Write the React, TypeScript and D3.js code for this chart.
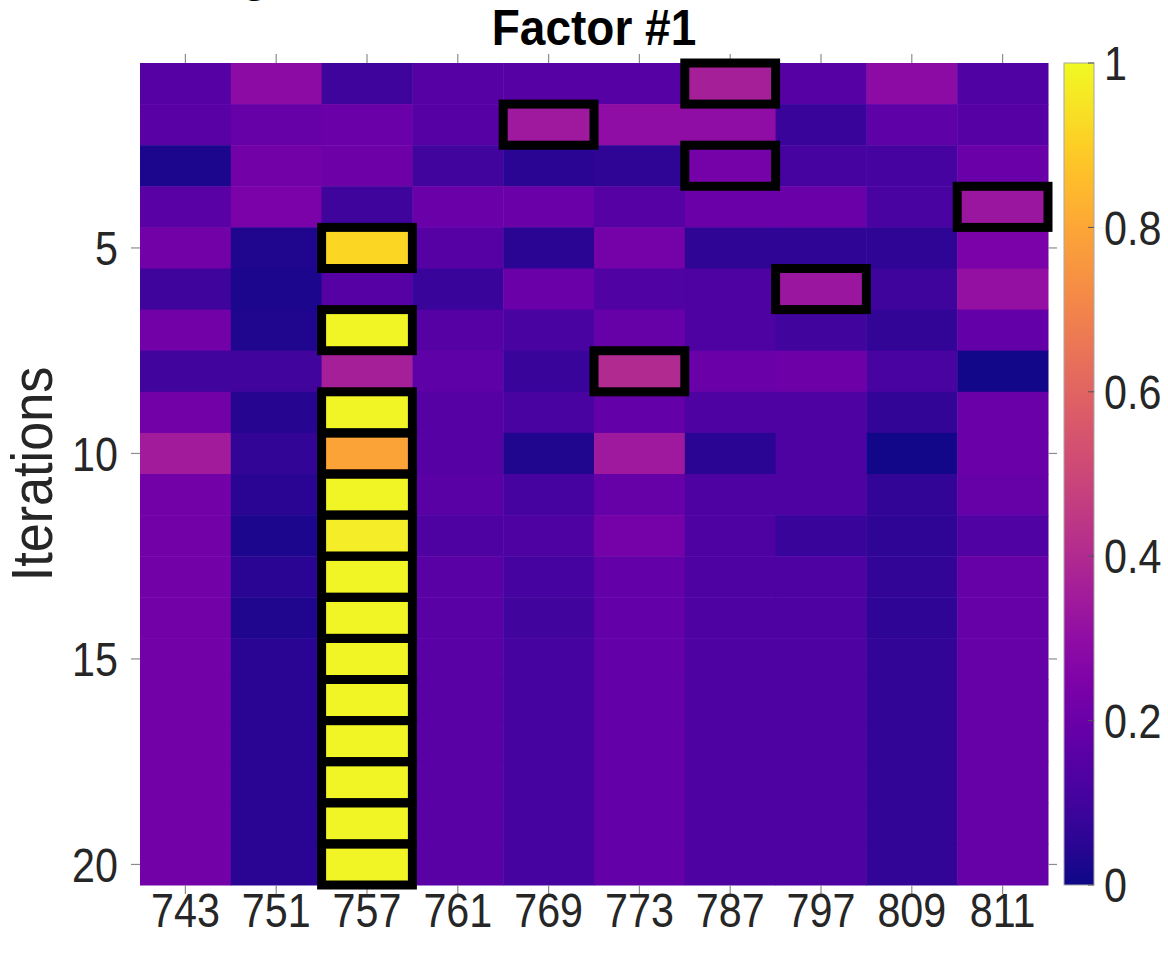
import React, { useEffect, useRef } from "react";
import * as d3 from "d3";

const columns = ["743", "751", "757", "761", "769", "773", "787", "797", "809", "811"];
const iterations = d3.range(1, 21);
const yTicks = [5, 10, 15, 20];
const cbTicks = [0, 0.2, 0.4, 0.6, 0.8, 1];

// one array per iteration, in column order
const values: number[][] = [
  [0.15, 0.29, 0.09, 0.15, 0.15, 0.15, 0.36, 0.15, 0.29, 0.14],
  [0.16, 0.19, 0.2, 0.15, 0.34, 0.3, 0.3, 0.08, 0.17, 0.15],
  [0.02, 0.22, 0.21, 0.1, 0.05, 0.06, 0.23, 0.11, 0.11, 0.2],
  [0.16, 0.24, 0.09, 0.2, 0.2, 0.15, 0.2, 0.2, 0.12, 0.33],
  [0.22, 0.03, 0.92, 0.15, 0.05, 0.23, 0.06, 0.06, 0.06, 0.24],
  [0.09, 0.02, 0.15, 0.08, 0.2, 0.14, 0.13, 0.33, 0.09, 0.31],
  [0.22, 0.03, 0.99, 0.15, 0.12, 0.19, 0.13, 0.1, 0.07, 0.18],
  [0.1, 0.1, 0.36, 0.17, 0.08, 0.4, 0.2, 0.21, 0.12, 0.01],
  [0.22, 0.04, 0.99, 0.15, 0.12, 0.18, 0.13, 0.13, 0.07, 0.2],
  [0.35, 0.07, 0.79, 0.15, 0.03, 0.34, 0.05, 0.13, 0.01, 0.2],
  [0.22, 0.05, 0.99, 0.16, 0.11, 0.19, 0.13, 0.13, 0.07, 0.19],
  [0.22, 0.02, 0.97, 0.13, 0.13, 0.23, 0.13, 0.08, 0.06, 0.14],
  [0.22, 0.05, 0.99, 0.16, 0.11, 0.18, 0.13, 0.13, 0.07, 0.19],
  [0.22, 0.03, 0.99, 0.16, 0.1, 0.18, 0.13, 0.13, 0.06, 0.19],
  [0.22, 0.05, 0.99, 0.16, 0.11, 0.18, 0.13, 0.13, 0.07, 0.19],
  [0.22, 0.05, 0.99, 0.16, 0.11, 0.18, 0.13, 0.13, 0.07, 0.19],
  [0.22, 0.05, 0.99, 0.16, 0.11, 0.18, 0.13, 0.13, 0.07, 0.19],
  [0.22, 0.05, 0.99, 0.16, 0.11, 0.18, 0.13, 0.13, 0.07, 0.19],
  [0.22, 0.05, 0.99, 0.16, 0.11, 0.18, 0.13, 0.13, 0.07, 0.19],
  [0.22, 0.05, 0.99, 0.16, 0.11, 0.18, 0.13, 0.13, 0.07, 0.19],
];

// [iteration, column] of the outlined cells
const highlighted: [number, string][] = [
  [1, "787"], [2, "769"], [3, "787"], [4, "811"], [5, "757"], [6, "797"],
  [7, "757"], [8, "773"], [9, "757"], [10, "757"], [11, "757"], [12, "757"],
  [13, "757"], [14, "757"], [15, "757"], [16, "757"], [17, "757"], [18, "757"],
  [19, "757"], [20, "757"],
];

const Heatmap: React.FC = () => {
  const svgRef = useRef<SVGSVGElement | null>(null);

  useEffect(() => {
    document.body.style.margin = "0";
    const svg = d3.select(svgRef.current);
    svg.selectAll("*").remove();

    const w = 1168;
    const h = 953;
    const m = { top: 63, left: 140, right: 1048, bottom: 885 };
    const font = "'Liberation Sans', Arial, Helvetica, sans-serif";
    const textColor = "#262626";
    const axisColor = "#8c8c8c";
    const squeeze = 0.86; // reference font is narrower than Arial

    svg.attr("width", w).attr("height", h).style("background-color", "#ffffff");

    const x = d3.scaleBand().domain(columns).range([m.left, m.right]);
    const y = d3.scaleBand<number>().domain(iterations).range([m.top, m.bottom]);
    const color = d3.scaleSequential(d3.interpolatePlasma).domain([0, 1]);

    const cells = iterations.flatMap((it, i) =>
      columns.map((c, j) => ({ it, c, v: values[i][j] }))
    );

    // cells
    svg.append("g")
      .selectAll("rect")
      .data(cells)
      .enter()
      .append("rect")
      .attr("x", d => x(d.c)!)
      .attr("y", d => y(d.it)!)
      .attr("width", x.bandwidth() + 0.5)
      .attr("height", y.bandwidth() + 0.5)
      .attr("fill", d => color(d.v));

    // axis ticks (outward, MATLAB image style)
    const tickLen = 9;
    const ticks = svg.append("g").attr("stroke", axisColor).attr("stroke-width", 1.2);
    columns.forEach(c => {
      const cx = x(c)! + x.bandwidth() / 2;
      ticks.append("line").attr("x1", cx).attr("x2", cx).attr("y1", m.bottom).attr("y2", m.bottom + tickLen);
      ticks.append("line").attr("x1", cx).attr("x2", cx).attr("y1", m.top).attr("y2", m.top - tickLen);
    });
    yTicks.forEach(t => {
      const cy = y(t)! + y.bandwidth() / 2;
      ticks.append("line").attr("x1", m.left).attr("x2", m.left - tickLen).attr("y1", cy).attr("y2", cy);
      ticks.append("line").attr("x1", m.right).attr("x2", m.right + tickLen).attr("y1", cy).attr("y2", cy);
    });

    // outlined cells
    svg.append("g")
      .selectAll("rect")
      .data(highlighted)
      .enter()
      .append("rect")
      .attr("x", d => x(d[1])!)
      .attr("y", d => y(d[0])!)
      .attr("width", x.bandwidth())
      .attr("height", y.bandwidth())
      .attr("fill", "none")
      .attr("stroke", "#000")
      .attr("stroke-width", 9);

    // tick labels
    svg.append("g")
      .selectAll("text")
      .data(columns)
      .enter()
      .append("text")
      .attr("transform", d => `translate(${x(d)! + x.bandwidth() / 2}, 927) scale(${squeeze}, 1)`)
      .attr("text-anchor", "middle")
      .style("font-family", font)
      .style("font-size", "48px")
      .attr("fill", textColor)
      .text(d => d);

    svg.append("g")
      .selectAll("text")
      .data(yTicks)
      .enter()
      .append("text")
      .attr("transform", d => `translate(118, ${y(d)! + y.bandwidth() / 2}) scale(${squeeze}, 1)`)
      .attr("dy", "0.36em")
      .attr("text-anchor", "end")
      .style("font-family", font)
      .style("font-size", "48px")
      .attr("fill", textColor)
      .text(d => d);

    // y label
    svg.append("text")
      .attr("transform", `translate(52, ${(m.top + m.bottom) / 2}) rotate(-90) scale(${squeeze + 0.04}, 1)`)
      .attr("text-anchor", "middle")
      .style("font-family", font)
      .style("font-size", "58px")
      .attr("fill", textColor)
      .text("Iterations");

    // title
    svg.append("text")
      .attr("transform", `translate(${(m.left + m.right) / 2}, 45) scale(0.92, 1)`)
      .attr("text-anchor", "middle")
      .style("font-family", font)
      .style("font-size", "50px")
      .style("font-weight", "bold")
      .attr("fill", "#000")
      .text("Factor #1");

    // clipped glyph of a super-title above the figure
    svg.append("text")
      .attr("x", 255)
      .attr("y", -9)
      .attr("text-anchor", "middle")
      .style("font-family", font)
      .style("font-size", "48px")
      .style("font-weight", "bold")
      .attr("fill", "#000")
      .text("g");

    // colorbar
    const cb = { x: 1064, w: 30 };
    const cbScale = d3.scaleLinear().domain([0, 1]).range([m.bottom, m.top]);
    const grad = svg.append("defs")
      .append("linearGradient")
      .attr("id", "plasma-grad")
      .attr("x1", "0").attr("y1", "1").attr("x2", "0").attr("y2", "0");
    d3.range(0, 1.0001, 0.05).forEach(t => {
      grad.append("stop").attr("offset", t).attr("stop-color", color(t));
    });
    svg.append("rect")
      .attr("x", cb.x)
      .attr("y", m.top)
      .attr("width", cb.w)
      .attr("height", m.bottom - m.top)
      .attr("fill", "url(#plasma-grad)")
      .attr("stroke", "#a6a6a6")
      .attr("stroke-width", 1);

    svg.append("g")
      .selectAll("line")
      .data(cbTicks)
      .enter()
      .append("line")
      .attr("x1", cb.x + cb.w)
      .attr("x2", cb.x + cb.w - 6)
      .attr("y1", d => cbScale(d))
      .attr("y2", d => cbScale(d))
      .attr("stroke", "#555")
      .attr("stroke-width", 1);

    svg.append("g")
      .selectAll("text")
      .data(cbTicks)
      .enter()
      .append("text")
      .attr("transform", d => `translate(1104, ${cbScale(d)}) scale(${squeeze}, 1)`)
      .attr("dy", "0.36em")
      .style("font-family", font)
      .style("font-size", "48px")
      .attr("fill", textColor)
      .text(d => d3.format("~g")(d));
  }, []);

  return <svg ref={svgRef}></svg>;
};

export default function App() {
  return <Heatmap />;
}
